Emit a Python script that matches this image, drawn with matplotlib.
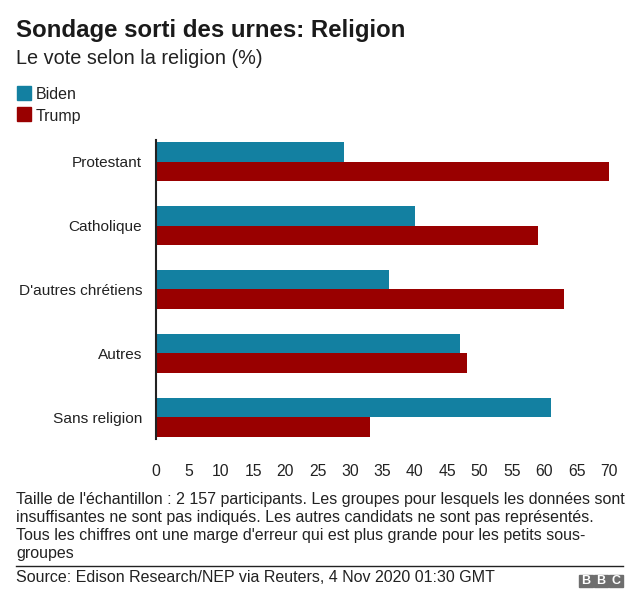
import matplotlib.pyplot as plt
import numpy as np

plt.rcParams['font.family'] = ['Liberation Sans', 'DejaVu Sans']

categories = ['Protestant', 'Catholique', "D'autres chrétiens", 'Autres', 'Sans religion']
biden = [29, 40, 36, 47, 61]
trump = [70, 59, 63, 48, 33]
xticks = list(range(0, 75, 5))

W, H = 640, 609
fig = plt.figure(figsize=(W / 100, H / 100), dpi=100)

ax = fig.add_axes([156 / W, 1 - 439 / H, (622 - 156) / W, (439 - 140) / H])
y = np.arange(len(categories))
h = 0.31
ax.barh(y - h / 2, biden, height=h, color='#1380A1')
ax.barh(y + h / 2, trump, height=h, color='#990000')
ax.set_ylim(4.336, -0.336)
ax.set_xlim(0, 72)
ax.set_yticks(y)
ax.set_yticklabels(categories, fontsize=11.1, color='#222222')
ax.set_xticks(xticks)
ax.set_xticklabels([str(t) for t in xticks], fontsize=11.3, color='#222222')
ax.tick_params(axis='both', length=0)
ax.tick_params(axis='y', pad=10)
ax.tick_params(axis='x', pad=18)
for s in ['top', 'right', 'bottom']:
    ax.spines[s].set_visible(False)
ax.spines['left'].set_color('#222222')
ax.spines['left'].set_linewidth(1.5)

def fy(py):
    return 1 - py / H

fig.text(16 / W, fy(37), 'Sondage sorti des urnes: Religion', fontsize=17.3,
         fontweight='bold', color='#1a1a1a', va='baseline')
fig.text(16 / W, fy(64), 'Le vote selon la religion (%)', fontsize=14.3,
         color='#222222', va='baseline')

# legend
for i, (lab, col) in enumerate([('Biden', '#1380A1'), ('Trump', '#990000')]):
    top = 86 + i * 21.5
    fig.patches.append(plt.Rectangle((16.5 / W, fy(top + 13.5)), 14 / W, 13.5 / H,
                                     transform=fig.transFigure, color=col))
    fig.text(36 / W, fy(99 + i * 21.5), lab, fontsize=11.5, color='#222222', va='baseline')

notes = ["Taille de l'échantillon : 2 157 participants. Les groupes pour lesquels les données sont",
         "insuffisantes ne sont pas indiqués. Les autres candidats ne sont pas représentés.",
         "Tous les chiffres ont une marge d'erreur qui est plus grande pour les petits sous-",
         "groupes"]
for i, line in enumerate(notes):
    fig.text(16 / W, fy(504 + i * 18), line, fontsize=11.5, color='#222222', va='baseline')

fig.add_artist(plt.Line2D([16 / W, 623 / W], [fy(565.5), fy(565.5)], color='#222222', lw=1))
fig.text(16 / W, fy(582.5), 'Source: Edison Research/NEP via Reuters, 4 Nov 2020 01:30 GMT',
         fontsize=11.5, color='#222222', va='baseline')

# BBC logo
for i, ch in enumerate('BBC'):
    x0 = 579 + i * 15
    fig.patches.append(plt.Rectangle((x0 / W, fy(587)), 13.5 / W, 12.5 / H,
                                     transform=fig.transFigure, color='#6e6e6e'))
    fig.text((x0 + 6.75) / W, fy(581), ch, fontsize=9, fontweight='bold',
             color='white', ha='center', va='center')

fig.savefig('out.png', dpi=100)
